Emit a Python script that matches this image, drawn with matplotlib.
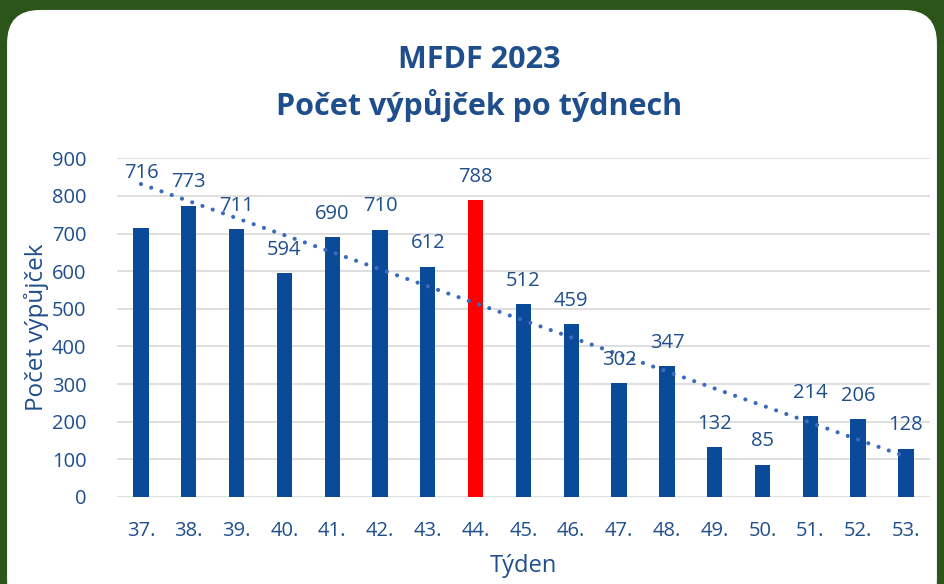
import numpy as np
import matplotlib.pyplot as plt
from matplotlib.patches import FancyBboxPatch

weeks = ['37.', '38.', '39.', '40.', '41.', '42.', '43.', '44.', '45.',
         '46.', '47.', '48.', '49.', '50.', '51.', '52.', '53.']
loans = [716, 773, 711, 594, 690, 710, 612, 788, 512,
         459, 302, 347, 132, 85, 214, 206, 128]
highlight = '44.'

blue = '#0b4a98'
red = '#ff0000'
txt = '#1f4e8c'

plt.rcParams['font.family'] = ['Open Sans', 'DejaVu Sans']

fig = plt.figure(figsize=(9.44, 5.84), dpi=100)
fig.patch.set_facecolor('#2c5519')
card = FancyBboxPatch((0.0075, -0.05), 0.985, 1.033,
                      boxstyle='round,pad=0,rounding_size=0.035',
                      transform=fig.transFigure, facecolor='white',
                      edgecolor='none', mutation_aspect=944/584, zorder=-10)
fig.patches.append(card)

ax = fig.add_axes([0.124, 0.149, 0.861, 0.58])
x = np.arange(len(weeks))
cols = [red if w == highlight else blue for w in weeks]
ax.bar(x, loans, width=0.32, color=cols, zorder=2)

# linear trendline like Excel
k, q = np.polyfit(x, loans, 1)
ax.plot(x[[0, -1]], k * x[[0, -1]] + q, linestyle=(0, (0.01, 2.6)),
        color='#3a6bbd', lw=3.0, dash_capstyle='round', zorder=3)

for i, v in enumerate(loans):
    off = 39 if i == 0 else 17
    ax.annotate(str(v), (i, v), xytext=(0, off), textcoords='offset points',
                ha='center', va='center', fontsize=14.5, color=txt, zorder=4)

ax.set_xlim(-0.5, len(weeks) - 0.5)
ax.set_ylim(0, 900)
ax.set_yticks(range(0, 901, 100))
ax.set_xticks(x)
ax.set_xticklabels(weeks)
ax.yaxis.grid(True, color='#d9d9d9', lw=1.2, zorder=0)
ax.set_axisbelow(True)
for s in ax.spines.values():
    s.set_visible(False)
ax.tick_params(length=0, labelsize=14.5, labelcolor=txt)
ax.tick_params(axis='x', pad=17)
ax.tick_params(axis='y', pad=22)
ax.set_facecolor('none')

ax.set_xlabel('Týden', fontsize=17, color=txt, labelpad=10)
ax.set_ylabel('Počet výpůjček', fontsize=17.5, color=txt, labelpad=2)

fig.text(0.508, 0.897, 'MFDF 2023', ha='center', va='center',
         fontsize=22, fontweight='bold', color=txt)
fig.text(0.508, 0.82, 'Počet výpůjček po týdnech', ha='center', va='center',
         fontsize=22, fontweight='bold', color=txt)

plt.savefig('out.png', dpi=100, facecolor=fig.get_facecolor())
